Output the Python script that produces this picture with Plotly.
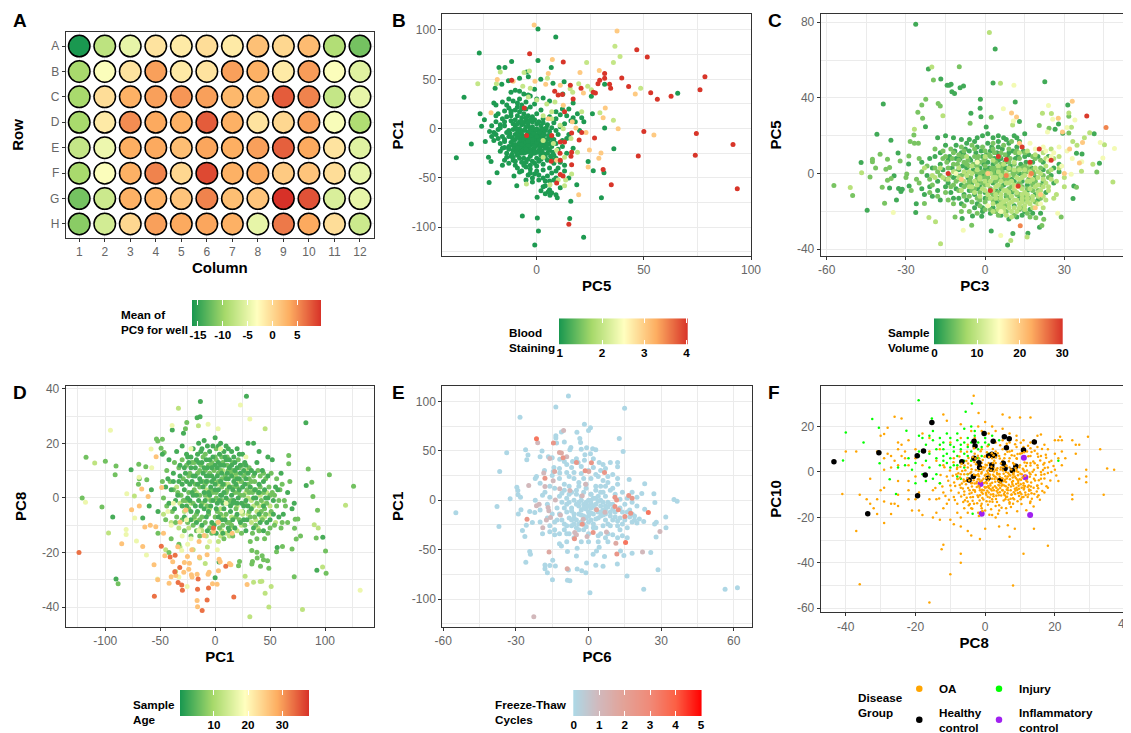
import numpy as np
import plotly.graph_objects as go

# the page body keeps its 8 px margin, so the figure starts at (8, 8)
PAGE_W, PAGE_H = 1131, 733
PAD = 8
W, H = PAGE_W - PAD, PAGE_H - PAD
FONT = "Liberation Sans"

# A: plate means
rows = ["A", "B", "C", "D", "E", "F", "G", "H"]
columns = list(range(1, 13))
pc9_means = [
    [-16.2, -8, -5, -1, -1.5, -0.5, -1.5, 1.8, 0, 2.2, -8.8, -12],
    [-9.5, -3.5, -1, 4, -1.5, -1, 4, 3, -1.5, 4.2, -3.5, -5.5],
    [-9.5, -0.5, 3, 4, 4.5, 4, 2.5, 2.5, 7.5, 5.5, -7.5, -5],
    [-9.5, -1.5, 5, 3.5, 3, 7.5, 3, -1, 0, 4, -3.7, -9],
    [-7.5, -4.5, 3.2, 3.5, 2, 3.7, 3.2, 4, 7.3, 3.5, -1, -5.5],
    [-9.5, -3.5, 3, 5.5, 0, 8.5, 3, 3.5, 1, 1.5, -0.5, -5],
    [-12, -7, 3, 3, 1.5, 5.5, 2, 1.5, 9.7, 8, -6, -5],
    [-11, -6.5, 0, 4, 3.5, 3.7, 3, -5, 6, 3.5, -0.5, -7],
]

# B: (PC5, PC1) by blood staining level
b_stain1 = [(-26.8,76.7),(0.6,101),(8.9,93),(0.6,69),(-11.7,68),(-17.6,62),(-14.8,62),(6.8,62),(-4.7,57.4),(-3.9,52.7),(-8,51),(1.9,50),(-13.2,48.6),(-16.3,45),(-19.4,41),(7.6,46),(12.8,47.6),(12.2,35),(-33.9,31.8),(-26.4,15),(-24.4,9),(-25.7,2.4),(-30.5,-15.5),(-37.5,-29.4),(-24,-13),(-22.5,-29),(-21.3,-33.4),(-18.5,-44.6),(-22.2,-54.7),(-10.6,-48),(-9.3,-57.8),(0.2,-69.6),(9.6,-70),(15.9,-73.6),(30.2,-70),(0.3,-90.5),(-6.7,-88.5),(15.4,-91),(0.8,-103.7),(21.9,-110),(-0.9,-118),(36,-20.3),(31.7,0.7),(26,15),(25.5,32.8),(65.8,35.8),(31.7,45),(24,-33.4),(26.4,-42.6),(31.4,-44.6),(18.7,-57),(3,-59),(5.4,-64),(6.2,-67.6),
    (-20,26),(-19,24),(-18,15),(-19,7),(-21,3),(-22,-3),(-20,-4),(-18,-1),(-17,4),(-16,10),(-15,18),(-14,24),(-16,27),(-13,30),(-12,37),(-10,39),(-8,38),(-11,28),(-9,22),(-12,18),(-14,12),(-12,8),(-15,3),(-13,-2),(-16,-8),(-18,-10),(-20,-12),(-17,-15),(-15,-19),(-17,-23),(-14,-25),(-12,-28),(-15,-32),(-13,-35),(-16,-37),(-10,-37),(-9,-40),(-7,-43),(-5,-39),(-3,-41),(-4,-47),(-1,-46),(-5,-52),(-2,-54),(1,-52),(3,-50),(5,-48),(7,-45),(6,-53),(8,-52),(9,-50),(4,-58),(6,-62),(2,-63),(4,-66),(7,-65),(9,-67),(11,-60),(13,-43),(15,-50),(10,-40),(8,-35),(5,-32),(3,-36),(0,-38),(-2,-33),(-6,-30),(-9,-27),(-11,-22),(-9,-18),(-12,-14),(-10,-11),(-8,-14),(-7,-20),(-5,-24),(-3,-28),(0,-30),(2,-27),(5,-25),(8,-27),(10,-21),(12,-18),(14,-25),(17,-20),(14,-10),(9,-15),(7,-18),(4,-20),(1,-22),(-1,-19),(-3,-17),(-6,-15),(-8,-10),(-10,-6),(-7,-6),(-5,-11),(-3,-12),(-1,-14),(1,-15),(3,-13),(5,-11),(7,-9),(3,-8),(1,-9),(-1,-7),(-3,-6),(-6,-2),(-8,0),(-10,3),(-7,4),(-5,2),(-3,0),(-1,-3),(1,-2),(3,-3),(6,-3),(9,-2),(11,2),(13,5),(8,6),(5,4),(2,3),(0,5),(-2,7),(-5,8),(-7,11),(-9,13),(-6,15),(-4,13),(-2,12),(0,15),(3,10),(6,12),(9,10),(11,14),(14,13),(17,11),(18,7),(21,11),(22,7),(-5,20),(-7,24),(-5,27),(-3,22),(-1,25),(2,19),(-3,33),(-6,35),(-8,30),(-1,40),(-4,34),(0,30),(3,31),(6,28),(9,17),(12,20),(15,20),(17,26),(19,15),(16,8),(20,-2),(4,-2),(-4,-9),(-6,-19),(-2,-22),(0,-11),(2,-6),(-4,-4),(-2,-15),(-4,-20),(-8,-22),(-6,-25),(-1,-25),(2,-18),(4,-15),(6,-15),(-11,-1),(-13,-8),(-11,-17),(-9,-4),(-5,-8),(-7,-12),(-3,-14),(0,-17),(-1,-10),(1,-12),(3,-17),(-2,-2),(0,0),(-4,3),(-6,6),(-8,7),(-10,9),(-12,13),(7,1),(10,-6),(12,-12),(15,-6),(6,-22),(9,-30),(11,-34),(13,-37),(1,-33),(-3,-37),(-7,-34),(-11,-32),
    (-11.5,-26),(-10.5,-20),(-9.5,-24),(-8.5,-16),(-7.5,-25),(-6.5,-21),(-5.5,-17),(-4.5,-23),(-3.5,-19),(-2.5,-26),(-1.5,-21),(-0.5,-16),(0.5,-24),(1.5,-19),(2.5,-23),(3.5,-26),(4.5,-18),(5.5,-21),(6.5,-28),(7.5,-24),(-11,-12),(-10,-16),(-9,-8),(-8,-19),(-7,-16),(-6,-11),(-5,-14),(-4,-17),(-3,-9),(-2,-13),(-1,-17),(0,-14),(1,-11),(2,-16),(3,-10),(4,-12),(5,-16),(6,-10),(7,-14),(8,-11),(-12.5,-5),(-11.5,-9),(-9.5,0),(-8.5,-6),(-7.5,-3),(-6.5,-8),(-5.5,-1),(-4.5,-6),(-3.5,-3),(-2.5,-8),(-1.5,-5),(-0.5,-1),(0.5,-6),(1.5,-4),(2.5,0),(3.5,-6),(4.5,1),(5.5,-7),(-14,-4),(-15,-13),(-13,-18),(-16,-20),(-14,-29),(-10,-33),(-8,-30),(-5,-34),(-1,-35),(2,-31),(4,-29),(7,-31),(-4,-31),(-6,-37),(-8,-44),(-3,-45),(0,-43),(3,-42),(6,-40),(9,-43),(-2,-50),(1,-47),(4,-53),(-11,5),(-9,5),(-7,7),(-4,6),(-2,2),(1,7),(3,6),(-12,16),(-10,19),(-8,17),(-5,11),(-3,9),(-1,9),(-7,20),(-9,26),(-13,21),(-15,7),(-17,1),(-19,-6),(-15,-11),(-19,13),(-21,-8),(-13,-21),(-11,-29),(-6,-9),(-4,-13),(-2,-11),(0,-8),(-1,-23),(-3,-24),(-5,-21),(-7,-23),(-9,-20)]
b_stain2 = [(36.5,83.5),(38.9,73),(35.8,67),(23.3,67),(19.6,45.6),(23.8,43),(25.5,39.5),(48.5,41),(15.6,40.5),(16.8,37),(29.5,16),(35.8,8.4),(21,17),(-27.5,45.6),(-17,57.4),(-18.8,45.6),(-3.4,58.4),(-5.9,57),(-6.5,43),(-3,41),(5,51),(-4.8,-56),(6.2,-56.8),(13,-58),(13.5,-52),(16.3,-46),(10,-52),(19,-24),(3,13),(7,17),(4.7,25),(8.5,27),(0,29),(-3.9,32),(7,10),(10.9,3.4),(7.8,-15),(3,-12),(12.4,0),(16,-10),(9.3,-22),(13,-29),(3,-29)]
b_stain3 = [(-1.2,105),(37.5,99),(7.3,70),(29.2,59),(5.4,56),(20.2,57),(-0.8,48),(4.2,45),(11,44),(21.8,36),(46,35),(-18.4,49.7),(-21.3,16),(32,21),(31,11),(38,0),(54.7,-6.4),(24.6,-21.6),(30,-24.7),(29,-30),(24,-39),(19.6,-67),(18.3,0.7),(23,-4),(16.6,7),(12.4,23.6),(9.3,-32),(5.4,10),(-11,48)]
b_stain4 = [(-3.3,76),(12.4,67.6),(46.7,80),(51.6,72.6),(78.5,52.7),(76.2,39.5),(62.7,32.8),(56.3,29.7),(53.2,36.5),(42.9,42.6),(39.7,51.4),(31.7,56),(31.7,51),(29.4,49),(28.6,45.6),(34,45),(34.5,41),(26.4,37),(27.4,36),(15.7,44),(20.7,41),(8.4,38),(10,34),(12,34.5),(17,30),(50,-3),(74.5,-5),(91.6,-16),(74,-27),(47.4,-27.7),(93.6,-61),(34.8,-56.8),(31,-41.5),(27,-9.5),(21,-4),(19.8,-11.5),(16.3,-4.4),(13,17),(13,-13.5),(11,-13.5),(10.9,-25),(11,-32),(16.3,-36.5),(16.3,-24),(16,-28),(11,-46.6),(12.3,-48),(9.3,-55),(15,-97),(-11.7,49),(-5.8,21),(7,-7),(-4.7,-7),(6.8,-33)]

# C: (PC3, PC5) by sample volume
c_vol2 = [(-26.3,79),(3.8,65.8),(-21.5,55.3),(-16.8,50),(-14.4,46.7),(-13.6,46.7),(-12.9,47.2),(-12.6,43.3),(-11.6,42.3),(-9.5,45.4),(-8.2,46.3),(3,47.9),(22.6,48.6),(-22.6,24.8),(-38.6,36.8),(-41,20.8),(-35.7,17.6),(-5.4,31.9),(-1.8,39.3),(-1.9,34.5),(-1.6,30),(0.4,24.6),(11.4,37.9),(13,27.5),(31.3,36.3),(41.3,21),(43.3,5.5),(36.7,10.4),(34.6,10.7),(29.4,21.3),(26.5,23.4),(27.8,26.2),(33.6,-6.5),(33.3,-13.2),(-47,5.8),(-44.7,-19.4),(-33.6,-13.9),(-36.2,-7.6),(-33,10.9),(-34.5,-1.2),(-29,5.1),(-28.8,-6.5),(-32.8,-7.9),(-31.9,-9.5),(-31.4,-8.3),(-26.3,-20.6),(-26.1,-16),(-8.7,-23.8),(-4.8,-22.4),(-1.3,-22.5),(2.3,-30.3),(8.5,-37.7),(10.5,-31.7),(16.2,-31.5),(20.6,-28.3),
    (-18,19),(-15,20),(-12,19),(-9,18),(-6,18),(-4,17),(-1,20),(1,21),(3,19),(5,20),(7,19),(9,16),(12,19),(15,21),(-3,14),(-6,12),(-8,10),(-11,8),(-14,7),(-17,5),(-20,3),(-22,-1),(-18,-4),(-15,-7),(-12,-2),(-9,-6),(-6,-3),(-3,-1),(0,2),(3,5),(6,8),(9,11),(12,14),(-1,9),(2,12),(5,14),(-4,5),(-7,3),(-10,2),(-13,-10),(-10,-13),(-7,-14),(-4,-18),(-1,-20),(2,-21),(5,-16),(8,-12),(11,-17),(14,-22),(17,-19),(20,-14),(23,-10),(26,-5),(22,2),(18,6),(15,9),(24,9),(28,5),(3,-5),(6,-8),(0,-10),(-3,-8),(1,6),(4,1),(7,3),(-2,3),(10,-3),(13,0),(16,-6),(19,-2),(-24,-8),(-23,-11),(-20,-12),(-17,-14),(-24,6),(-21,8),(-19,9),
    (-13.5,9),(-11.5,12),(-9.5,8),(-7.5,13),(-5.5,7),(-3.5,11),(-1.5,12),(0.5,10),(2.5,14),(4.5,11),(6.5,13),(8.5,9),(10.5,12),(12.5,9),(14.5,12),(16.5,10),(-12.5,3),(-10.5,-1),(-8.5,4),(-6.5,-2),(-4.5,2),(-2.5,-4),(-0.5,5),(1.5,3),(3.5,8),(5.5,2),(7.5,6),(9.5,4),(11.5,8),(13.5,5),(15.5,6),(17.5,3),(-14,-5),(-11,-8),(-8,-11),(-5,-5),(-2,-7),(1,-4),(4,-9),(7,-6),(10,-10),(13,-13),(16,-9),(19,-11),(22,-4),(25,-1),(-12,-13),(-9,-16),(-6,-9),(-3,-16),(0,-13),(3,-18),(6,-22),(9,-24),(12,-23),(15,-20),(18,-21),(21,-21),(-16,2),(-18,-9),(-21,-7),(-17,11),(-15,15),(-11,15),(-7,16),(-3,19),(1,16),(5,17),(8,18),(11,20),(13,17),(20,9),(22,6),(26,3),(28,1),(-1,-18),(4,-15),(14,-4),(18,-5),(-4,-11),(-1,-1),(2,1),(5,7),(8,3),(11,-4),(-6,8),(-9,11)]
c_vol5 = [(-19.6,49.5),(-9.8,56.5),(-22.5,39.3),(-24,36.3),(-25.5,32.4),(-23.7,29.2),(-27,20.4),(-28.4,17),(-26.8,16),(-25.3,16),(-17.8,37),(-17,35.7),(-5.7,26.6),(2.3,29.8),(20.5,25.4),(31.7,30.3),(31.7,21.5),(24.2,24),(42.3,0.9),(34.6,-7.2),(28.8,-22.9),(-57.3,-6.3),(-50.2,-11.6),(-43.6,-1.8),(-38.1,-15.7),(-39,-7.2),(-42.7,7.6),(-42.7,6.2),(-39.8,10.2),(-37,7.6),(-41.5,3),(-37.6,2.3),(-36.2,3.2),(-32.2,6.7),(-35.6,-2.6),(-37,-3.5),(-28.9,9.3),(-29.7,-0.2),(-23,-15.8),(-5.1,-27.3),(-11.4,-23),(21.5,-27.5),(22.2,-24.1),(19.2,-23.4),
    (-28,-9),(-26,-3),(-24,1),(-22,4),(-20,-6),(-18,1),(-16,8),(-14,3),(-12,5),(-10,10),(-8,6),(-6,4),(-4,9),(-2,6),(0,8),(2,9),(4,6),(6,5),(8,7),(-11,-4),(-9,-1),(-7,-6),(-5,-9),(-3,-3),(-1,-5),(1,-2),(3,2),(5,-3),(7,-1),(9,2),(11,5),(13,8),(-6,-12),(-3,-13),(0,-15),(3,-11),(6,-14),(9,-8),(12,-6),(15,-12),(18,-9),(21,-6),(24,-2),(16,3),(19,8),(-15,-3),(-13,-7),(-16,12),(-13,13),(-9,14),(-5,15),(-1,14),(3,16),(7,15),(10,17),(-19,13),(-14,-14),(-8,-17),(-2,-17),(4,-20),(8,-20),(13,-19),(17,-23),(-21,-3),(-25,8),(-30,-2),(-3,4),(2,-8),(5,-10),(8,-5),(11,-1),(14,3),(-1,1),
    (-14.5,6),(-12.5,8),(-10.5,5),(-8.5,9),(-6.5,7),(-4.5,5),(-2.5,9),(-0.5,7),(1.5,10),(3.5,11),(5.5,9),(7.5,10),(9.5,8),(11.5,11),(-13.5,-1),(-11.5,1),(-9.5,-3),(-7.5,0),(-5.5,-2),(-3.5,1),(-1.5,-2),(0.5,0),(2.5,3),(4.5,-1),(6.5,1),(8.5,-3),(10.5,0),(12.5,3),(14.5,0),(16.5,-3),(18.5,0),(-12,-6),(-10,-9),(-8,-7),(-6,-6),(-4,-8),(-2,-10),(0,-6),(2,-10),(4,-4),(6,-7),(8,-11),(10,-7),(12,-11),(14,-7),(16,-8),(18,-6),(20,-9),(22,-1),(-8,-12),(-5,-15),(-2,-14),(1,-13),(3,-14),(5,-13),(7,-16),(9,-13),(11,-9),(13,-11),(15,-14),(17,-13),(19,-15),(21,-13),(2,-19),(5,-22),(8,-17),(11,-22),(14,-18),(16,-21),(-17,-1),(-19,3),(-15,9),(-12,11),(-8,12),(-4,13),(0,12),(3,13),(6,11),(9,13),(12,12),(15,11),(18,9),(21,7),(-10,7),(-7,5),(-3,7),(0,4),(3,0),(6,3),(9,6),(12,1),(15,4),(18,2),(21,3),(24,1),(-2,0),(1,1),(4,3),(7,-3),(10,2),(13,-5),(16,1),(19,-4),(-6,-4),(-3,-5),(0,-2),(-15,-10),(-18,-12),(-21,-10),(-25,-5),(-12,-16),(-9,-20),(-6,-20),(-3,-21),(0,-19)]
c_vol9 = [(1.6,74.6),(-20.2,56.3),(5.8,47.7),(-26.8,23.4),(-16,30.6),(21.7,31.9),(25.1,31.7),(31.7,32),(10.4,25.7),(39.6,21.6),(45.2,15.3),(48.4,-4.4),(40.8,4.9),(37.6,19),(34.8,15),(33.2,16.9),(32.7,24.5),(36.5,1.2),(-51.1,-7.4),(-46.8,0.5),(-21.3,-23.2),(-18.8,-25.4),(-16.9,-37.1),(9.7,-35.4),(15.9,-33.5),
    (-10,3),(-7,-1),(-4,-4),(-1,-8),(2,-4),(4,-7),(6,-11),(8,-9),(10,-12),(12,-10),(14,-8),(16,-11),(18,-14),(20,-12),(22,-7),(9,-16),(11,-14),(13,-16),(15,-17),(7,-18),(5,-19),(7,-20),(10,-20),(12,-20),(6,-4),(9,-1),(11,2),(13,-3),(15,-1),(17,1),(19,3),(21,0),(23,4),(25,2),(-6,1),(-3,-6),(0,-4),(3,-2),(-12,1),(-16,-2),(-20,-1),(-23,3),(-9,-9),(-5,-7),(1,-11),(4,-13),(17,-4),(20,-6),(24,-7),(27,-11),(30,-2),(30,-7),(28,9),(25,13),(22,11),(-2,-2),(5,1),(8,0),(14,-13),(18,-18),(22,-18),(11,-6),(16,-15),(9,-5),(6,-16),(3,-16),(-7,9),
    (-8,1),(-5,0),(-2,-3),(1,-6),(3,-9),(5,-6),(7,-9),(9,-10),(11,-8),(13,-7),(15,-10),(17,-8),(19,-7),(21,-9),(23,-5),(25,-3),(4,-11),(6,-13),(8,-14),(10,-15),(12,-14),(14,-15),(16,-13),(18,-12),(20,-10),(22,-12),(24,-9),(5,-17),(7,-15),(9,-18),(11,-18),(13,-18),(15,-19),(8,-22),(10,-23),(3,-20),(6,-18),(2,-13),(0,-9),(-2,-12),(-4,-10),(-6,-7),(-8,-4),(-10,-2),(2,0),(4,-2),(6,-1),(8,-5),(10,-4),(12,-2),(14,-2),(16,-4),(18,-3),(20,-2),(22,-3),(5,4),(7,5),(9,3),(11,6),(13,2),(15,2),(17,5),(20,1),(23,8),(19,10),(16,12),(13,11),(3,7),(0,9),(-3,2),(-5,4),(-14,-3),(-17,3),(-19,-2),(26,8),(28,3),(27,-4),(14,-11),(17,-16),(20,-16),(23,-14),(26,-13)]
c_vol14 = [(10.9,46.7),(6.9,34.3),(10.7,27.8),(24,36),(34,28.3),(25.6,28.7),(43.6,16.4),(49,13.2),(44.6,8.3),(31,24.3),(23.6,22),(36.6,6.2),(32.6,-0.4),(27.5,-21),(-34.8,-20.6),(-8.3,-29.9),(5.9,-32.7),(-3,6),(1,-17),(6,-20),(21,-16),(25,9),(23,12),(26,11),(22,14),(19,13),(17,16),(24,7),(28,14),(31,12),(33,8),(29,4),(-11,0)]
c_vol20 = [(10,32),(11.9,29.9),(33,38.2),(27.7,29.2),(36.9,16.5),(29.3,22),(35.7,5.6),(1,0),(-9,-3),(12,-7),(17,-1),(21,-11),(13,16),(30,0),(32,13),(19,-18)]
c_vol25 = [(45.8,24.3),(13.3,-27.6),(17.5,0),(8,-1)]
c_vol30 = [(38.5,30.5),(-14,0),(14,14),(12.5,-6.5),(20.5,13),(8,7.5),(25,7),(17,6),(5,9),(2,-9)]

# D: (PC1, PC8) by sample age
d_age3 = [(28.5,37.2),(-13.4,35.3),(82.6,27.5),(-16.4,29.4),(-13.7,29.7),(-39,24.9),(-28.8,23.7),(-76.5,10.3),(-93.2,-7),(-65.9,-7.4),(-90.2,-29.7),(82.9,4.5),(98,-14.4),(92.6,-26.5),(56.5,-18.2),(3.6,-23.5),(0,-29.3),
    (-48,16),(-42,14),(-35,17),(-30,19),(-25,15),(-20,18),(-15,20),(-10,21),(-5,17),(0,22),(5,20),(10,19),(15,17),(20,18),(25,16),(30,20),(35,20),(40,17),(-38,9),(-32,12),(-27,9),(-22,11),(-17,14),(-12,13),(-7,11),(-2,15),(3,13),(8,12),(13,11),(18,13),(23,9),(28,12),(33,10),(38,13),(43,10),(48,15),(52,14),(-45,4),(-40,3),(-33,6),(-28,3),(-23,5),(-18,8),(-13,6),(-8,8),(-3,6),(2,8),(7,5),(12,7),(17,6),(22,3),(27,5),(-42,-2),(-36,-1),(-30,-3),(-25,0),(-20,1),(-15,-1),(-10,2),(-5,1),(0,3),(5,1),(10,0),(15,1),(20,-2),(30,-3),(35,0),(45,3),(55,4),(60,9),(66,2),(72,-2),(-28,-7),(-22,-5),(-16,-5),(-10,-4),(-4,-3),(2,-2),(8,-4),(14,-5),(20,-6),(26,-8),(40,-6),(50,-8),(62,-6),(70,-4),(-12,-10),(-3,-9),(6,-8),(18,-11),(28,-12),(44,-12),(-52,-5),(-58,3),(-60,-3),
    (-32,8),(-28,11),(-24,13),(-21,6),(-18,11),(-16,16),(-13,17),(-11,9),(-8,14),(-6,8),(-3,11),(-1,7),(2,11),(4,16),(6,9),(9,15),(11,9),(13,14),(15,8),(18,10),(20,7),(23,12),(26,10),(30,9),(-30,5),(-26,6),(-21,2),(-17,1),(-14,7),(-11,4),(-8,6),(-6,2),(-3,8),(0,5),(3,3),(5,6),(8,2),(10,7),(13,4),(16,3),(19,5),(22,7),(25,4),(28,7),(32,4),(36,9),(40,5),(44,6),(48,8),(-26,-3),(-23,-1),(-18,-3),(-13,-3),(-9,-1),(-6,-5),(-2,-1),(1,-4),(4,-1),(7,-2),(11,-2),(14,-3),(17,-1),(21,0),(24,-2),(28,-1),(33,-4),(37,0),(40,2),(44,-3),(48,0),(53,-1),(57,3),(-8,-7),(-1,-10),(3,-7),(9,-8),(12,-11),(16,-8),(23,-9),(29,-8),(35,-11),(41,-9),(47,-9),(53,-6),(58,-7),(-20,8),(-15,13),(-10,11),(-5,14),(0,12),(5,12),(10,14),(15,12),(20,11),(-26,16),(-22,15),(-12,18),(-7,19),(-2,19),(3,19),(8,17),(12,18),(17,15),(22,16),(27,13),(-34,1),(-38,6),(-43,7),(-37,-4),(-22,-8),(-17,-9),(-7,-12),(1,-13),(7,-13),(13,-12),(-16,5),(-4,4),(6,1),(16,-2),(26,-3),(36,3),(46,0)]
d_age7 = [(-27,25.3),(-25.8,27.6),(-53.4,21.6),(-48,21.5),(-52.2,20.8),(-117.5,14.9),(-99.9,13.4),(-90.2,11.7),(-91,8.5),(-69.5,12.3),(-63.1,11.4),(-49.2,18.2),(-46.4,16.6),(-69,7),(-62.2,6.6),(-69.8,5),(-121,0),(-103,-3.3),(-88.3,-31.5),(104,8.5),(126,4.3),(84.7,10.6),(88,5.7),(89,0.5),(93.2,-4.5),(92,-14.7),(100.5,-19.5),(101,-27.6),(72,-28.9),(48.9,-25.8),(41.3,-25),(33.4,-24.2),(34,-23.3),(22.2,-23.3),(21.3,-24.9),(47.7,-23),(44,-22.7),(42.8,-21.2),(38.3,-22),(38,-19.9),(33.4,-19.3),(55.9,-19.7),(61.3,-17.8),(70,-18.7),(73.8,-15.1),(77.7,-14),(72.3,-11.1),(72.9,-7.8),(75.3,-7.7),(67,15.5),(67,12.5),
    (-44,10),(-37,13),(-30,14),(-24,8),(-19,13),(-14,10),(-9,16),(-4,12),(1,18),(6,15),(11,15),(16,10),(21,14),(26,8),(31,7),(36,6),(41,8),(46,7),(51,9),(56,7),(61,5),(68,6),(-47,0),(-39,-5),(-34,2),(-29,-1),(-24,-4),(-19,3),(-14,4),(-9,5),(-4,3),(1,0),(6,4),(11,3),(16,4),(21,2),(26,1),(31,2),(37,3),(42,-1),(47,-2),(52,2),(58,-1),(64,-3),(-35,-7),(-28,-12),(-20,-10),(-12,-7),(-6,-6),(0,-7),(7,-10),(13,-9),(19,-7),(25,-5),(32,-7),(37,-10),(42,-5),(48,-13),(54,-10),(60,-11),(66,-9),(32,-16),(38,-15),(45,-15),(-45,-8),(-52,-13),(-40,-15),(-33,-17),(-42,-20),(8,-15),(16,-14),(-3,-13),(-14,-14),
    (-33,11),(-29,7),(-26,12),(-23,9),(-21,13),(-18,5),(-16,9),(-13,12),(-11,15),(-9,10),(-7,6),(-5,9),(-3,13),(-1,10),(1,14),(3,9),(5,10),(7,13),(9,8),(11,12),(14,9),(16,13),(19,9),(22,11),(25,12),(28,9),(31,11),(35,8),(39,10),(44,9),(-31,1),(-27,-1),(-24,2),(-20,-2),(-17,-6),(-14,1),(-12,-2),(-9,1),(-7,-3),(-4,-1),(-2,2),(1,2),(3,6),(6,-1),(8,5),(10,2),(12,-1),(15,-1),(18,2),(20,4),(23,1),(27,-2),(30,5),(34,2),(38,-2),(41,4),(45,-4),(49,4),(54,1),(59,3),(63,-1),(-25,-9),(-19,-7),(-14,-8),(-9,-9),(-5,-11),(2,-5),(5,-6),(10,-6),(15,-10),(19,-4),(22,-8),(27,-10),(31,-5),(36,-7),(40,-12),(43,-8),(46,-6),(51,-5),(56,-3),(61,-9),(-38,3),(-41,6),(-36,-9),(-30,-8),(-44,-3),(-48,6),(-22,-14),(-17,-12),(4,-11),(11,-9),(24,-13),(34,-13),(50,-11),(-11,6),(-6,12),(0,15),(6,7),(12,10),(18,7),(24,6),(29,3),(33,6),(39,2),(44,2),(50,1)]
d_age12 = [(-33.4,32.8),(-15.2,26.4),(45.5,25.3),(-109.6,12.8),(-73.5,0.7),(-97,-12.9),(118.7,-2.7),(90.2,-9.8),(93.8,-11),(97.8,-25.3),(79.5,-40.9),(48.9,-40),(31.6,-43.5),(45.5,-34.9),(51,-32.5),(27.3,-28.7),(35,-30.9),(41,-30.6),(42.5,-30.5),(-36,-27),(-32,-18),(-45,-19),(-7,-18),(-9,-24),(3,-16),(-25,-1),(-17,2),(-8,3),(2,5),(10,5),(19,8),(28,2),(33,-1),(38,-5),(44,-2),(50,-3),(20,-12),(13,-14),(6,-12),(-3,-10),(-12,-12),(-24,-11),(-33,-11),(-40,-9),(-47,-6),(39,-11),(-14,-22),(-20,-19),
    (-10,-2),(-5,-4),(0,-1),(5,-4),(10,2),(15,-7),(20,-3),(25,-6),(30,0),(35,-3),(40,-3),(45,-7),(50,-6),(55,-9),(30,-6),(37,-8),(42,-7),(-18,-8),(-13,-11),(-8,-14),(2,-9),(8,-7),(14,-11),(24,-10),(-32,-2),(-28,-5),(-22,-2),(-35,4),(22,6),(28,10),(34,3),(41,1),(47,2),(12,5),(17,9),(7,10),(-1,6),(-6,0),(10,-13),(5,-14),(40,-12),(33,-9)]
d_age17 = [(23,34),(31.6,28.9),(-95.3,24.8),(-39.2,26.5),(-6.4,27),(2.7,25.3),(-57.7,11),(-58.3,17.9),(-69.2,7.6),(-80.4,1.5),(-118,-1.6),(-81,-11.6),(-81,-13.4),(-73.2,-7.4),(-71.6,-15.8),(-62.5,-20.9),(-52.5,-29.7),(132,-33.8),(-25.5,-32.5),(-30.4,-19.3),(-43,-5),(-38,-2),(-26,-8),(-30,-14),(-22,-15),(-25,-17),(-15,-12),(-5,-16),(2,-19),(-33,-29),(-40,-10),(10,-2),(24,-5),(28,15),(-22,18),(5,18)]
d_age25 = [(-53.7,15.1),(-66.8,3.3),(-76,-4.3),(-69,-3),(-65.9,-17.8),(-85,-16.8),(-55.6,-24.5),(-52.2,-30),(-64,-10.7),(-59,-10),(-54,-10.6),(-47,-13),(-45.8,-21.2),(-38.6,-23.4),(-40,-28.9),(-35.8,-28.4),(-41.9,-31.3),(-28.5,-27.2),(-21.6,-28.2),(-21,-29),(-16.4,-28),(-16.4,-37.6),(-16,-39.9),(-2.4,-31.5),(1.8,-31.6),(29.1,-31.7),(-6.4,-28),(-5.5,-27.2),(3,-26.7),(3.6,-22.5),(4.6,-23.4),(13,-24),(14.3,-24.5),(-7.3,-20.8),(-14.3,-21.7),(-23.4,-23.9),(-24,-26.1),(-28,-23.7),(-25.2,-21.5),(-21.2,-19),(-34,-17.9),(-14.6,-16),(-10,-13.8),(-1.5,-12.3),(3,-8.9),(-26.7,-4.4),(-31.9,-8.9),(-48.6,3.8),(-61,0.5),(15.5,-13)]
d_age32 = [(-123.9,-20),(-55.3,-36),(-49,-17.7),(-36.4,-21),(-41,-21.7),(-32.2,-25.5),(-36.7,-27.1),(-33.7,-31),(-30.4,-31.9),(-29.8,-33.8),(-15.5,-29.7),(-16,-33.5),(-11.8,-41.3),(-7.3,-37.4),(-6,-33),(17,-36.3),(9.7,-25),(-1.5,-11)]

# E: (PC6, PC1) by freeze-thaw cycles
e_ft0 = [(-54.8,-12.8),(-8.3,105.4),(-13.5,94.3),(14.9,92.9),(-28.3,83.8),(-1.7,76.7),(0.8,73.3),(0,70.6),(-4.8,68.6),(-11.2,68.9),(-13.5,65.2),(-13.5,62.8),(-3.6,62.5),(-3.3,58.4),(12.7,62.5),(-10,58.8),(-13.2,57.8),(14.3,49.3),(-26,51),(-19.2,49.7),(-33.8,48),(-25,45.6),(-25.5,40.9),(-20,43.9),(-36.7,29),(-7.3,53.4),(-7.7,51),(-3,51.4),(-0.8,53),(1.7,52),(3,51),(-1.5,46),(0.8,47),(-16.6,44),(-15,43),(-11.9,41.5),(-10,39),(-6.6,39),(-4.3,38),(-1.7,40.5),(4.4,38),(9,38),(12,38),(12,33.8),(-14.3,33),(-14.6,29),(-18.2,30),(-11.9,27.4),(-21.5,24),(-29.6,13),(-29.2,9.8),(-29.1,5.4),(-28.1,3),(-32.4,1.4),(-37.8,-6.4),(-27.9,-9.8),(-29,-14),(-37,-26.7),(-24.3,-11.5),(-22.2,-12.5),(-23.2,-22.6),(-25.7,-25.3),(-27.3,-30.7),(-26.3,-36.8),(-24.3,-52),(-24,-54.7),(-25.9,-62.8),(-18,-65.5),(-18,-69.3),(-17,-73.3),(-16,-66),(-14.8,-60.8),(-13.7,-66.6),(-14.9,-80.4),(-8.7,-81),(-7.7,-81.4),(-8.3,-70.6),(-4.7,-69.6),(-2.8,-71.3),(-1.1,-73.3),(-0.8,-63.5),(3,-65.9),(6,-66.9),(0.6,-93.6),(11.9,-64.5),(15.9,-76.7),(22.8,-90.2),(28.7,-70.3),(25.7,-53),(18,-53.7),(14.6,-56),(13.2,-51.4),(6.6,-57),(1.9,-54.7),(3.3,-51.4),(4.4,-47.6),(-4.7,-48.6),(-5,-56.4),(-8.7,-52),(-11.2,-46.3),(56.4,-90.2),(61.5,-88.5),(36.6,-1),(35.3,0.7),(27,6.4),(22,6.8),(23.2,16.6),(16.8,21),(27.4,-2.4),(31.9,-16.9),(32,-28),(28,-22.3),(27.3,-24),(27.9,-37.2),(22.8,-21.6),(23.2,-9.1),
    (-20,17),(-18,8),(-16,3),(-14,12),(-12,22),(-10,16),(-8,24),(-6,28),(-4,18),(-2,22),(0,30),(2,33),(4,24),(6,20),(8,24),(10,12),(12,16),(14,8),(16,2),(18,-2),(20,-6),(-22,0),(-20,-10),(-17,-4),(-15,-14),(-13,-8),(-11,-2),(-9,2),(-7,8),(-5,10),(-3,4),(-1,12),(1,6),(3,14),(5,8),(7,4),(9,10),(11,6),(13,1),(15,-4),(17,-10),(19,-16),(21,-19),(-14,-30),(-12,-34),(-10,-24),(-8,-34),(-6,-18),(-4,-24),(-2,-30),(0,-22),(2,-28),(4,-36),(6,-26),(8,-34),(10,-20),(12,-26),(14,-36),(16,-28),(18,-22),(-9,-12),(-7,-8),(-5,-4),(-3,-10),(-1,-2),(1,-8),(3,-4),(5,-12),(7,-6),(9,-16),(11,-12),(13,-18),(-6,-14),(-4,-6),(-2,-16),(0,-12),(2,-14),(4,-18),(6,-10),(8,-2),(10,-4),(-1,-6),(1,0),(-3,0),(-5,-20),(-7,-26),(3,2),(5,0),(7,-14),(-2,-24),(0,-34),(-9,-42),(8,-42),(12,-38),(4,-42),(-12,-44),(-16,-32),(-19,-34),(16,-38),(-14,-22),(-16,14),(-11,7),(2,42),(6,36),(-8,-2),(-12,-14),(-10,-30),
    (-9,-4),(-8,6),(-7,-11),(-6,0),(-5,6),(-4,-2),(-3,-15),(-2,-4),(-1,-9),(0,0),(0,-16),(1,-3),(1,-13),(2,2),(2,-6),(3,-9),(3,-19),(4,-1),(4,-12),(5,-6),(5,-16),(6,-2),(6,-15),(7,-10),(7,-20),(8,-7),(8,-24),(9,-4),(9,-12),(9,-26),(10,-9),(11,-17),(12,-21),(13,-8),(14,-12),(14,-24),(15,-20),(16,-12),(17,-17),(18,-14),(19,-20),(20,-23),(-10,-8),(-11,-20),(-13,-20),(-9,-26),(-8,-18),(-7,-20),(-6,-24),(-5,-28),(-4,-14),(-4,-30),(-3,-22),(-2,-8),(-1,-18),(-1,-27),(0,-6),(1,-20),(1,6),(2,-24),(3,10),(4,4),(5,14),(6,8),(7,14),(8,18),(-2,8),(-4,14),(-6,22),(-8,14),(-10,10),(-12,4),(-1,16),(1,22),(3,26),(5,30),(7,32),(10,26),(-3,27),(-7,33),(-9,36),(-5,42),(-3,34),(-16,-26),(-14,-35),(-9,-34),(-6,-38),(-3,-42),(0,-42),(3,-28),(5,-34),(7,-38),(10,-35),(13,-30),(-17,-18),(-20,-22),(-22,22),(-19,5),(-15,25),(-12,32),(-9,28),(12,22),(18,8),(20,3)]
e_ft1 = [(-21,58),(-10.3,70.6),(-16,42.2),(-9,44),(-18.5,27.4),(-14.6,19.6),(-24.7,14.9),(-18,13.9),(-11.9,11.5),(-7.7,9.8),(-1.2,16.2),(-13.7,0.3),(-2.6,4.4),(-20.4,-4),(-21.5,-5.7),(-16.7,-7.4),(-16.4,-10.8),(-11.6,-14.9),(-15.7,-17.6),(-17.4,-20),(-18.9,-28),(29.5,-31.8),(22.3,-52.4),(-5.7,-32.8),(-5,-35),(-0.6,-36.8),(-2.2,-19.3),(-22.6,-117.9),(7.4,-32.1),(6.8,-12.2)]
e_ft2 = [(-12,48.3),(-11.2,47.6),(0.1,29),(-14,29),(11.3,-43.6),(-16.3,-52.4),(-8.8,-69.3),(3.3,-9.8)]
e_ft3 = [(-14.5,57.8),(-10.5,43),(-5,38),(-1.4,29.7),(1.2,37.8),(6.6,28),(-18,22.3),(10.9,3),(11.6,0.3),(16.6,4.7),(18,2),(-25.4,-19.3),(11.7,-54.4),(1.9,-32.8),(-5.8,-38.9),(-2.6,-24.3),(10.9,-6.4),(12.3,-9.8),(17.4,-13.2),(15,-16.6)]
e_ft4 = [(-21.5,62.2),(24.7,-12.5),(15.3,-42.9)]

# F: (PC8, PC10) by disease group
f_oa = [(-3.3,33.6),(-26,24.3),(-24,23.5),(-12,25.3),(-1.9,26),(5,25.3),(7,24),(10,24),(13,24),(-11,22.6),(-7,21),(-2,20),(0,22),(2,20),(-30,16),(-29,16.7),(-28,19.5),(-25,13),(-24,12),(-22,14),(-25,10),(-23,9),(-40,9),(-37,9),(-31,9),(-29,6),(-28,8),(-27,7),(-26,5),(-24,7),(-22,3),(-27,2),(-25,3),(-29,1),
    (-33,-3),(-25,-4),(-22,-4),(-22,-8),(-25,-10),(-29,-7),(-30,-8),(-41,-9.7),(-36,-10),(-34,-12),(-33,-14),(-31,-12),(-32,-16),(-29,-13),(-27,-14),(-26,-14),(-25,-15),(-22,-12),(-20,-12),(-21,-17),(-19,-17),(-18,-19),(-31,-18.5),(-27,-18.5),(-29,-22.5),(-37,-26),(-15,-20),(-14,-18),(-13,-21),(-10,-21),(-9,-23),(-7,-24),(-5,-26),(-4,-28),(-1.5,-29.5),(0,-25),(4,-24),(6.5,-23.5),(7,-28.5),(8.5,-25),(14,-25),(18,-32.5),(11,-36),(-12,-32),(-12.5,-34),(-7,-36),(-7,-40),(-10,-45),(-36,-49.5),(8,-50),(-16,-57.5),(29,1),(33,10),(35,1.5),(37,1),(34,-10),(29,-2),(29,-4.5),(27,-3),(25,-10),(25,-12),(26,12),(27,12),(25,14),(26,8),(29.5,15.5),(21,14),(21.5,15.5),(22,14),(20,14),(22,9),(20,8),(21,6),(23,6),(22,3),(20,1),(19,0),(21,-4),(18,-7),(17,-9),(15,-11),(13,-13),(15,16),(16,16.5),(14,14),(17,12),(18,10),(16,7),(17,4),(18,2),(15,3),(16,0),(14,-3),(15,-6),(13,-8),(11,-11),
    (-8,-3),(-7,-7),(-6,-10),(-5,-13),(-4,-5),(-3,-8),(-2,-11),(-1,-14),(0,-7),(1,-9),(2,-12),(3,-15),(4,-6),(5,-8),(6,-11),(7,-14),(8,-4),(9,-7),(10,-9),(11,-5),(12,-3),(13,-1),(-6,-1),(-5,2),(-4,0),(-3,-2),(-2,3),(-1,0),(0,2),(1,-1),(2,-3),(3,1),(4,-1),(5,-3),(6,0),(7,2),(8,-1),(9,1),(10,3),(11,1),(12,4),(13,7),(-4,5),(-3,8),(-2,6),(-1,4),(0,7),(1,4),(2,6),(3,4),(4,7),(5,5),(6,3),(7,6),(8,4),(9,6),(10,8),(11,11),(12,9),(13,4),(14,1),(-1,10),(1,12),(3,9),(5,10),(7,9),(9,11),(3,13),(5,14),(7,13),(9,14),(11,14),
    (-7,-1),(-5.5,-4),(-4.5,-8),(-3.5,-11),(-2.5,-5),(-1.5,-8),(-0.5,-3),(0.5,-5),(1.5,-6),(2.5,-8),(3.5,-3),(4.5,-5),(5.5,-6),(6.5,-8),(7.5,-10),(8.5,-2),(9.5,-4),(10.5,-7),(11.5,-9),(12.5,-6),(-2,-1),(-0.5,1),(0.5,3),(1.5,1),(2.5,2),(3.5,-1),(4.5,2),(5.5,1),(6.5,-2),(7.5,0),(8.5,3),(9.5,0),(10.5,-1),(11.5,-2),(-8,2),(-10,-6),(-12,-9),(-14,-12),(-11,-2),(-13,-5),(-15,-8),(-9,-11),(-8,-14),(-6,-16),(-11,-14),(-12,-16),(-4,-16),(-2,-18),(0,-17),(2,-19),(4,-17),(6,-16),(8,-14),(-17,-4),(-19,-9),(-16,-12),(-20,-2),(-18,3),(-20,6),(-16,9),(-14,5),(-12,3),(-9,6),(-7,9),(-5,12),(-3,15),(-1,18),(1,17),(3,18),(5,19),(7,17),(9,16),(13,13),(15,11),(13,10.5),(15,8),(19,5),(-4,18),(-7,15),(-10,13),(-13,10),(-16,15),(-18,17),(-20,10),(-23,6),(0.3,-10),(3.2,-10.5),(5.8,-12),(8.3,-12),(-3.2,-14),(-0.8,-11.5),(1.3,-13),(10.2,-12),(12.2,-11),(16,-3),(17,-1),(-1,-16),(3,-20),(-5,-18),(-8,-18),(-7,-20)]
f_oa_core = [(-8.6,-6.2),(-8.1,1.3),(-7.6,-9.1),(-7.2,-2.4),(-6.8,3.6),(-6.4,-7.3),(-6.1,-4.2),(-5.7,0.8),(-5.3,-11.4),(-5.1,-2.7),(-4.8,6.2),(-4.5,-9.6),(-4.3,-0.6),(-4.1,2.9),(-3.8,-6.4),(-3.6,-12.7),(-3.3,-3.6),(-3.1,4.4),(-2.9,-8.7),(-2.7,0.9),(-2.5,-1.4),(-2.3,-13.8),(-2.1,7.1),(-1.9,-6.1),(-1.7,-3.3),(-1.5,-10.2),(-1.3,1.8),(-1.1,-0.7),(-0.9,-7.8),(-0.7,5.3),(-0.5,-12.1),(-0.3,-4.9),(-0.1,-1.6),(0.1,3.2),(0.2,-9.3),(0.4,-6.7),(0.6,0.4),(0.8,-14.4),(0.9,-3.8),(1.1,6.6),(1.3,-11.2),(1.4,-1.2),(1.6,-7.6),(1.8,2.3),(2,-4.7),(2.1,-13.1),(2.3,-9.8),(2.5,0.2),(2.6,4.9),(2.8,-6.3),(3,-2.2),(3.1,-11.9),(3.3,-8.4),(3.5,1.6),(3.6,8.2),(3.8,-4.1),(4,-14.7),(4.1,-0.9),(4.3,-7.1),(4.5,3.7),(4.6,-10.4),(4.8,-2.8),(5,-5.6),(5.1,0.7),(5.3,-12.6),(5.5,6.1),(5.6,-8.8),(5.8,-1.9),(6,-4.4),(6.1,2.6),(6.3,-10.9),(6.5,-6.9),(6.6,-0.4),(6.8,4.7),(7,-13.3),(7.1,-3.2),(7.3,-8.1),(7.5,1.1),(7.6,7.4),(7.8,-5.3),(8,-11.6),(8.1,-1.1),(8.3,3.4),(8.5,-7.4),(8.6,-9.7),(8.8,-2.6),(9,0.3),(9.1,5.8),(9.3,-12.9),(9.5,-4.8),(9.6,-6.1),(9.8,2.1),(10,-8.9),(10.1,-0.8),(10.3,-3.4),(10.5,8.3),(10.6,-11.1),(10.8,1.4),(11,-5.9),(11.1,-7.7),(11.3,4.2),(11.5,-1.7),(11.6,-10.1),(11.8,-3.9),(12,0.6),(12.2,-6.6),(12.4,6.9),(12.6,-8.3),(12.8,-2.1),(13,2.8),(13.2,-4.6),(13.4,-11.8),(13.6,0.1),(13.9,-6.9),(14.2,3.9),(14.5,-1.3),(14.8,-8.6),(15.1,1.9),(15.4,-3.6),(15.8,5.1),(16.2,-5.2),(16.6,0.9),(17,-2.9),(17.5,6.3),(18,-0.5),
    (-7.9,-3.1),(-7.3,-5.7),(-6.6,0.4),(-6,-8.6),(-5.5,-5.4),(-5,-0.9),(-4.6,-3.8),(-4.2,-11.1),(-3.9,1.2),(-3.4,-7.9),(-3,-5.1),(-2.6,3.4),(-2.2,-10.4),(-1.8,-1.9),(-1.4,-4.2),(-1,-8.9),(-0.6,2.1),(-0.2,-6.6),(0.3,-2.6),(0.7,-10.9),(1,1.1),(1.5,-5.2),(1.9,-8.2),(2.2,4),(2.7,-3.1),(3.2,-6.9),(3.4,-0.4),(3.9,-10.2),(4.4,-4.6),(4.9,-8.1),(5.2,2.1),(5.7,-3.4),(6.2,-7.7),(6.7,-12.2),(7.2,-1.6),(7.7,-4.4),(8.2,-8.9),(8.7,1.7),(9.2,-3.3),(9.7,-10.6),(10.2,-5.4),(10.7,-2.4),(11.2,-7.1),(11.7,2.6),(12.1,-4.3),(12.7,-0.3),(13.3,-9.4),(13.8,4.6),(14.3,-3.7),(14.9,-6.1),(-8.3,-1.1),(-6.9,-10.8),(-5.9,2.9),(-4.4,-14.1),(-2.8,5.9),(-1.2,-14.9),(0.5,8.7),(2.4,7.4),(4.2,5.9),(6.4,8.9),(8.4,7.1),(-3.7,-16.2),(-0.8,-17.2),(1.7,-16.4),(4.7,-15.8),(7.4,-15.4),(10.4,-14.1),(12.9,-13.7),(15.3,-10.3),
    (0.2,-1.1),(0.9,-6.2),(1.2,-2.4),(1.7,0.7),(2.2,-6.9),(2.6,-1.9),(2.9,-4.3),(3.3,0.8),(3.7,-7.7),(4.2,-2.1),(4.4,1.1),(4.7,-6.1),(5.4,-4.1),(5.9,-6.3),(6.2,-2.9),(6.9,-1.1),(7.4,-6.4),(7.9,-2.4),(8.1,-6.1),(8.9,-5.3),(9.4,-1.4),(9.9,-3.2),(0.6,-8.3),(1.6,-9.9),(3.6,-9.1),(5.6,-10.3),(7.6,-9.9),(9.2,-7.9),(-0.4,-8.1),(-1.6,-6.9),(-2.4,-4.3),(-3.2,-1.2),(-0.9,-3.7),(-1.9,0.4),(0.2,-4.4),
    (-9.3,-1.7),(-9.8,-8.2),(-10.6,-3.9),(-11.4,-10.6),(-12.3,-6.4),(-13.2,-11.7),(-14.3,-7.1),(-10.1,0.6),(-11.7,2.1),(-12.8,-1.3),(-9.1,4.3),(-7.4,6.8),(-5.2,8.9),(-3.2,10.4),(-1.3,9.1),(0.7,11.3),(2.2,10.1),(4.3,11.8),(6.2,12.4),(8.6,12.2),(10.2,12.9),(12.3,11.6),(14.2,9.3),(16.3,10.1),(17.4,7.6),(18.4,4.4),(19.6,2.6),(20.4,-1.6),(18.7,-3.7),(17.6,-6.3),(16.4,-8.4),(15.7,-12.2),(13.9,-15.2),(11.8,-16.8),(9.2,-17.3),(6.2,-18.1),(3.7,-18.4),(1.2,-18.8),(-1.8,-19.4),(-4.7,-14.6),(-6.3,-13.2),(-8.7,-12.3),(-10.4,-12.2),
    (-8.9,-4.6),(-7.7,-0.6),(-6.7,-5.1),(-5.8,-12.4),(-4.9,3.7),(-3.9,-9.2),(-2.4,-6.6),(-1.6,-12.6),(-0.7,-9.6),(0.4,-12.9),(1.1,-7.1),(2.4,-10.7),(3.4,-13.2),(4.2,-8.9),(5.4,-9.7),(6.4,-9.4),(7.3,-11.8),(8.7,-8.2),(9.4,-9.3),(10.4,-9.8),(11.4,-6.2),(12.4,-9.9),(13.1,-6.4),(14.1,-9.7),(15.2,-7.2),(16.1,-1.2),(17.1,1.7),(-7.1,2.3),(-5.4,4.8),(-3.6,6.6),(-1.7,5.9),(-0.2,6.7),(1.9,8.2),(3.1,6.4),(5.7,7.8),(7.7,9.3),(9.3,7.9),(11.2,8.7),(13.3,8.8),(15.2,6.7),(16.7,3.3),(0.8,-0.4),(2.3,-1.2),(3.8,-5.7),(5.3,-0.8),(6.8,-5.6),(8.2,-0.3),(9.7,-7.4),(11.3,0.2),(12.6,-7.7),(-2.1,-3.2),(-3.7,-4.8),(-4.9,-7.1),(-6.2,-3.3)]
f_injury = [(-40,17.4),(-40.8,5.1),(-34.9,13),(-32.4,23.3),(-30.5,19.5),(-30.3,3.8),(-27.4,-3.2),(-25.6,-9.7),(-19.1,31.6),(-3.8,30.2),(-5.6,26.5),(-15.3,23.6),(-22.6,18.2),(-3.6,-18.4),
    (-25,2),(-23,3),(-22,6),(-21,1),(-20,4),(-19,9),(-19,16),(-18,15),(-17,12),(-17,5),(-16,2),(-16,8),(-15,14),(-15,18),(-14,10),(-14,6),(-14,-1),(-13,12),(-13,15),(-13,3),(-12,7),(-12,10),(-12,13),(-11,17),(-11,4),(-11,8),(-10,12),(-10,6),(-10,15),(-9,9),(-9,3),(-9,11),(-8,14),(-8,7),(-8,17),(-8,-2),(-7,10),(-7,12),(-7,5),(-7,-3),(-6,8),(-6,13),(-6,19),(-6,2),(-5,11),(-5,7),(-5,15),(-5,-1),(-4,9),(-4,13),(-4,20),(-3,12),(-3,16),(-3,18),(-2,13),(-2,10),(-1,11),(-1,7),(0,13),(0,15),(1,12),(1,8),(2,8),(2,16),(3,7),(4,14),(-18,-1),(-20,-5),(-17,-4),(-15,-3),(-13,-5),(-19,7),(-16,16),(-12,5),(-10,2),(-8,3),(-6,5),(-4,5),(-2,6),(21,5)]
f_healthy = [(-43.4,4.5),(-33.7,-18.4),(-30.5,8.5),(-15.3,21.8),(-17.7,9.2),(-19.5,7.2),(-17.2,-1.3),(-19.4,-10.5),(-3.2,13.5),(-0.3,17),(-2.9,11.4),(2.3,13.5),(5.5,15.5),(6.9,14.6),(14.1,13.2),(11,9.7),(6.1,10.7),(-6.7,4.5),(-3.2,6.1),(1,7.2),(1.9,7.8),(2.7,7.3),(-1.8,4.1),(-1.6,2),(1.9,3.1),(1.7,1.2),(5.2,3.8),(5.7,1.5),(8.8,2.5),(7.8,0.6),(-3.4,-2),(-4.6,-3.5),(0.8,-2.8),(4.3,-3.7)]
f_inflam = [(11.1,6.3),(11.5,-2.3),(-1.3,-5.3),(-1,-18.4),(12.9,-19)]

# F legend
key_names = ["OA", "Injury", "Healthy<br>control", "Inflammatory<br>control"]
key_colors = ["#ffa500", "#00ff00", "black", "#a020f0"]
key_cols = [0, 1, 0, 1]
key_rows = [1, 1, 0, 0]

RDYLGN = [[0, "#1a9850"], [0.25, "#a6d96a"], [0.5, "#ffffbf"], [0.75, "#fdae61"], [1, "#d73027"]]
BLUERED = [[0, "#add8e6"], [0.2, "#d2b8bb"], [0.4, "#e3a297"], [0.6, "#f08a78"], [0.8, "#fc6045"], [1, "#ff0000"]]


def fx(px):
    return (px - PAD) / W


def fy(px):
    return 1 - (px - PAD) / H


def xdom(a, b):
    return [fx(a), fx(b)]


def ydom(top, bottom):
    return [fy(bottom), fy(top)]


def axis_style(title, rng, dom, tickvals, other, standoff, ticktext=None, minor=None):
    ax = dict(
        title=dict(text="<b>%s</b>" % title, font=dict(family=FONT, size=15, color="black"), standoff=standoff),
        range=rng, domain=dom, tickvals=tickvals, ticktext=ticktext or [str(v) for v in tickvals], anchor=other,
        automargin=False, showline=True, mirror=True, linecolor="#333333", linewidth=1,
        ticks="outside", ticklen=3, tickcolor="#333333", tickwidth=1,
        tickfont=dict(family=FONT, size=12, color="#666666"),
        showgrid=True, gridcolor="#ebebeb", gridwidth=1, zeroline=False,
    )
    if minor:
        ax["minor"] = dict(tickvals=minor, showgrid=True, gridcolor="#ebebeb", gridwidth=0.5, ticks="")
    return ax


def add_points(points, value, k, size=5):
    fig.add_trace(go.Scatter(x=[p[0] for p in points], y=[p[1] for p in points], mode="markers",
                             xaxis="x%d" % k, yaxis="y%d" % k, showlegend=False,
                             marker=dict(size=size, color=[value] * len(points), coloraxis="coloraxis%d" % k,
                                         line=dict(width=0))))


def add_group(points, color, size):
    fig.add_trace(go.Scatter(x=[p[0] for p in points], y=[p[1] for p in points], mode="markers", xaxis="x6", yaxis="y6",
                             showlegend=False, marker=dict(size=size, color=color, line=dict(width=0))))


fig = go.Figure()

# A plate
plate_x, plate_y, plate_z = [], [], []
for i, r in enumerate(rows):
    for j, c in enumerate(columns):
        plate_x.append(c)
        plate_y.append(r)
        plate_z.append(pc9_means[i][j])
fig.add_trace(go.Scatter(x=plate_x, y=plate_y, mode="markers", xaxis="x", yaxis="y", showlegend=False,
                         marker=dict(size=21.5, color=plate_z, coloraxis="coloraxis",
                                     line=dict(color="black", width=1.5))))

for pts, v in [(b_stain1, 1), (b_stain2, 2), (b_stain3, 3), (b_stain4, 4)]:
    add_points(pts, v, 2)
for pts, v in [(c_vol2, 2), (c_vol5, 5), (c_vol9, 9), (c_vol14, 14), (c_vol20, 20), (c_vol25, 25), (c_vol30, 29.5)]:
    add_points(pts, v, 3)
for pts, v in [(d_age12, 12), (d_age7, 6), (d_age3, 3), (d_age17, 17), (d_age25, 26), (d_age32, 33)]:
    add_points(pts, v, 4)
for pts, v in [(e_ft0, 0), (e_ft1, 1), (e_ft2, 1.7), (e_ft3, 2.5), (e_ft4, 3.5)]:
    add_points(pts, v, 5)

add_group(f_oa, key_colors[0], 2.5)
add_group(f_injury, key_colors[1], 2.5)
add_group(f_healthy, key_colors[2], 5.5)
add_group(f_inflam, key_colors[3], 6)
add_group(f_oa_core, key_colors[0], 2.5)


# colour bars as small heatmaps, native ones push the margins
def add_bar(k, cax, cmin, cmax, x0, x1, top, bottom, tickvals):
    ramp = np.linspace(cmin, cmax, 130)
    fig.add_trace(go.Heatmap(x=ramp, y=[0], z=[ramp], coloraxis=cax, xaxis="x%d" % k, yaxis="y%d" % k, hoverinfo="skip"))
    fig.layout["xaxis%d" % k] = dict(domain=xdom(x0, x1), range=[cmin, cmax], anchor="y%d" % k, tickvals=tickvals,
                                     ticktext=[str(v) for v in tickvals], automargin=False,
                                     ticks="inside", ticklen=5, tickcolor="white", tickwidth=1, mirror="ticks",
                                     showline=False, showgrid=False, zeroline=False,
                                     tickfont=dict(family=FONT, size=11.7, color="black", weight="bold"))
    fig.layout["yaxis%d" % k] = dict(domain=ydom(top, bottom), range=[-0.5, 0.5], anchor="x%d" % k, visible=False,
                                     automargin=False)


fig.update_layout(
    width=W, height=H, margin=dict(l=0, r=0, t=0, b=0), paper_bgcolor="white", plot_bgcolor="white",
    font=dict(family=FONT), showlegend=False,
    xaxis=axis_style("Column", [0.47, 12.55], xdom(65.7, 374), columns, "y", 4),
    yaxis=axis_style("Row", [7.54, -0.54], ydom(32.3, 237.7), list(range(8)), "x", 22, ticktext=rows),
    xaxis2=axis_style("PC5", [-44.05, 100], xdom(442.3, 751), [0, 50, 100], "y2", 4, minor=[-25, 25, 75]),
    yaxis2=axis_style("PC1", [-128.8, 115.9], ydom(14.3, 255.7), [-100, -50, 0, 50, 100], "x2", 4, minor=[-125, -75, -25, 25, 75]),
    xaxis3=axis_style("PC3", [-62.3, 54.5], xdom(820.7, 1129), [-60, -30, 0, 30], "y3", 4, minor=[-45, -15, 15, 45]),
    yaxis3=axis_style("PC5", [-43.4, 84.2], ydom(14.3, 255.7), [-40, 0, 40, 80], "x3", 11, minor=[-20, 20, 60]),
    xaxis4=axis_style("PC1", [-136, 144.6], xdom(65.7, 374), [-100, -50, 0, 50, 100], "y4", 4, minor=[-125, -75, -25, 25, 75, 125]),
    yaxis4=axis_style("PC8", [-47.3, 41.1], ydom(385.7, 627), [-40, -20, 0, 20, 40], "x4", 11, minor=[-30, -10, 10, 30]),
    xaxis5=axis_style("PC6", [-60.4, 67.4], xdom(442.3, 751.7), [-60, -30, 0, 30, 60], "y5", 4, minor=[-45, -15, 15, 45]),
    yaxis5=axis_style("PC1", [-128.3, 115.8], ydom(385.7, 627), [-100, -50, 0, 50, 100], "x5", 4, minor=[-125, -75, -25, 25, 75]),
    xaxis6=axis_style("PC8", [-47.2, 40.9], xdom(820.7, 1127.7), [-40, -20, 0, 20, 40], "y6", 4, minor=[-30, -10, 10, 30]),
    yaxis6=axis_style("PC10", [-61.8, 38], ydom(385.7, 612.3), [-60, -40, -20, 0, 20], "x6", 11, minor=[-50, -30, -10, 10, 30]),
    xaxis12=dict(domain=xdom(919.3, 999), range=[0, 1], anchor="y12", visible=False, automargin=False),
    yaxis12=dict(domain=ydom(688.7, 719.7), range=[0, 1], anchor="x12", visible=False, automargin=False),
    coloraxis=dict(colorscale=RDYLGN, cmin=-16.2, cmax=9.77, showscale=False),
    coloraxis2=dict(colorscale=RDYLGN, cmin=0.98, cmax=4.03, showscale=False),
    coloraxis3=dict(colorscale=RDYLGN, cmin=-0.1, cmax=30.1, showscale=False),
    coloraxis4=dict(colorscale=RDYLGN, cmin=0.05, cmax=37.85, showscale=False),
    coloraxis5=dict(colorscale=BLUERED, cmin=-0.02, cmax=5.03, showscale=False),
)

add_bar(7, "coloraxis", -16.2, 9.77, 192, 321, 300, 326, [-15, -10, -5, 0, 5])
add_bar(8, "coloraxis2", 0.98, 4.03, 559, 687.7, 318.3, 344.7, [1, 2, 3, 4])
add_bar(9, "coloraxis3", -0.1, 30.1, 934, 1062.7, 318.3, 344.7, [0, 10, 20, 30])
add_bar(10, "coloraxis4", 0.05, 37.85, 180, 309, 690, 716, [10, 20, 30])
add_bar(11, "coloraxis5", -0.02, 5.03, 573.3, 701.7, 690, 716, [0, 1, 2, 3, 4, 5])

# F legend keys
fig.add_trace(go.Scatter(x=key_cols, y=key_rows, mode="markers", xaxis="x12", yaxis="y12", cliponaxis=False,
                         showlegend=False, hoverinfo="skip", marker=dict(size=6.5, color=key_colors)))
for name, cx, cy in zip(key_names, key_cols, key_rows):
    fig.add_annotation(text="<b>%s</b>" % name, x=cx, y=cy, xref="x12", yref="y12", xanchor="left", yanchor="middle",
                       xshift=19, align="left", showarrow=False, borderpad=0,
                       font=dict(family=FONT, size=11.7, color="black"))

# plotly drops the last tick label of F because it runs off the page
fig.add_annotation(text="40", x=40, y=fy(624), xref="x6", yref="paper", xanchor="center", yanchor="middle",
                   showarrow=False, borderpad=0, font=dict(family=FONT, size=12, color="#666666"))

labels = [("A", 12, 21), ("B", 390.5, 21), ("C", 767, 21), ("D", 12, 392), ("E", 390.5, 392), ("F", 767, 392)]
for t, x, y in labels:
    fig.add_annotation(text="<b>%s</b>" % t, x=fx(x), y=fy(y), xref="paper", yref="paper", xanchor="left",
                       yanchor="middle", showarrow=False, borderpad=0, font=dict(family=FONT, size=19, color="black"))

legend_titles = [("Mean of<br>PC9 for well", 120, 322), ("Blood<br>Staining", 507.7, 340.5), ("Sample<br>Volume", 887, 340.5),
                 ("Sample<br>Age", 132, 711.5), ("Freeze-Thaw<br>Cycles", 494, 711.5), ("Disease<br>Group", 857.3, 704.5)]
for t, x, y in legend_titles:
    fig.add_annotation(text="<b>%s</b>" % t, x=fx(x), y=fy(y), xref="paper", yref="paper", xanchor="left",
                       yanchor="middle", align="left", showarrow=False, borderpad=0,
                       font=dict(family=FONT, size=11.7, color="black"))

fig.write_html("out.html")
